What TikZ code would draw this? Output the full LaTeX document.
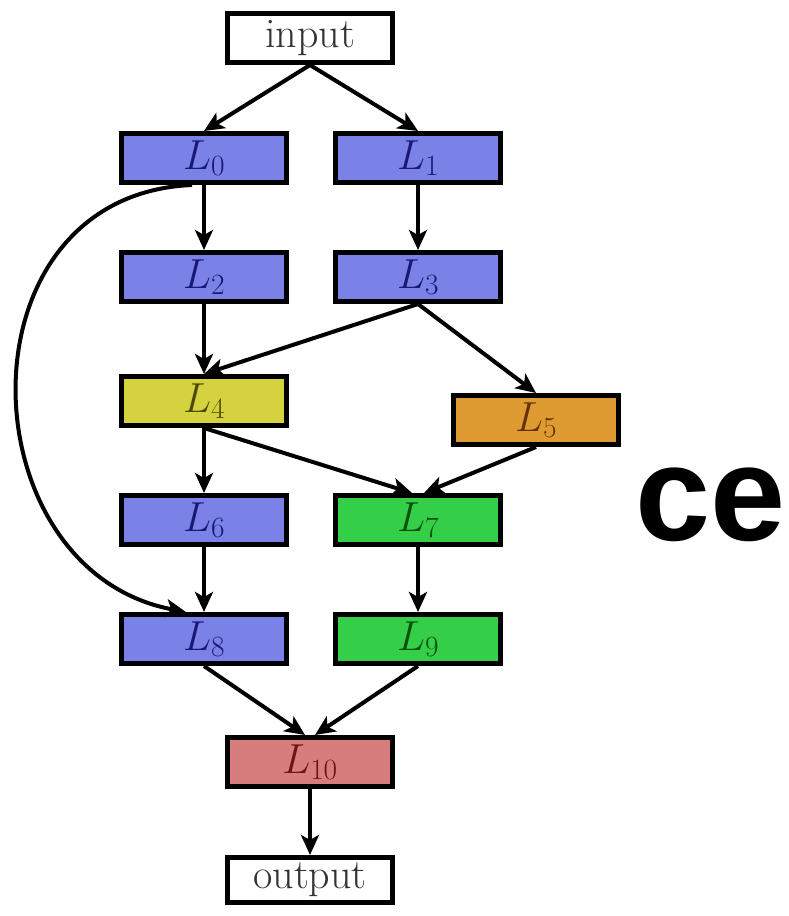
\RequirePackage{fix-cm}
\documentclass[tikz,border=0pt]{standalone}
\usepackage{fontspec}
\newfontfamily\bigsans{Liberation Sans}
\usetikzlibrary{arrows.meta}
\definecolor{lblue}{RGB}{122,130,232}
\definecolor{tblue}{RGB}{25,25,115}
\definecolor{lyel}{RGB}{212,210,62}
\definecolor{tyel}{RGB}{75,75,0}
\definecolor{lora}{RGB}{222,155,50}
\definecolor{tora}{RGB}{100,50,0}
\definecolor{lgre}{RGB}{52,206,72}
\definecolor{tgre}{RGB}{10,80,10}
\definecolor{lred}{RGB}{215,125,125}
\definecolor{tred}{RGB}{110,20,20}
\begin{document}
\begin{tikzpicture}[x=1pt,y=-1pt,
  box/.style={draw=black, line width=5pt, rectangle, inner sep=0pt,
    minimum width=165pt, minimum height=49pt,
    font=\fontsize{42}{42}\selectfont},
  bl/.style={box, fill=lblue, text=tblue},
  ye/.style={box, fill=lyel, text=tyel},
  orn/.style={box, fill=lora, text=tora},
  gr/.style={box, fill=lgre, text=tgre},
  rd/.style={box, fill=lred, text=tred},
  wh/.style={box, fill=white, text=black!80},
  conn/.style={line width=4pt, -{Stealth[length=20pt,width=18pt,inset=5pt]}}
]
\useasboundingbox (0,0) rectangle (789,916);
\node[wh] (in) at (310,38) {input};
\node[bl] (L0) at (204,158) {$L_{0}$};
\node[bl] (L1) at (418,158) {$L_{1}$};
\node[bl] (L2) at (204,277) {$L_{2}$};
\node[bl] (L3) at (418,277) {$L_{3}$};
\node[ye] (L4) at (204,401) {$L_{4}$};
\node[orn] (L5) at (536,420) {$L_{5}$};
\node[bl] (L6) at (204,520) {$L_{6}$};
\node[gr] (L7) at (418,520) {$L_{7}$};
\node[bl] (L8) at (204,639) {$L_{8}$};
\node[gr] (L9) at (418,639) {$L_{9}$};
\node[rd] (L10) at (310,762) {$L_{10}$};
\node[wh, minimum height=45pt] (out) at (310,880) {output};
\node[font=\bigsans\bfseries\fontsize{135}{135}\selectfont, anchor=base] (ce) at (711,540) {ce};

\draw[conn] (in.south) -- (L0.north);
\draw[conn] (in.south) -- (L1.north);
\draw[conn] (L0.south) -- (L2.north);
\draw[conn] (L1.south) -- (L3.north);
\draw[conn] (L2.south) -- (L4.north);
\draw[conn] (L3.south) -- (L4.north);
\draw[conn] (L3.south) -- (L5.north);
\draw[conn] (L4.south) -- (L6.north);
\draw[conn] (L4.south) -- ([xshift=-6pt]L7.north);
\draw[conn] (L5.south) -- ([xshift=6pt]L7.north);
\draw[conn] (L6.south) -- (L8.north);
\draw[conn] (L7.south) -- (L9.north);
\draw[conn] (L8.south) -- ([xshift=-5pt]L10.north);
\draw[conn] (L9.south) -- ([xshift=5pt]L10.north);
\draw[conn] (L10.south) -- (out.north);
\draw[conn] ([xshift=-12pt]L0.south) .. controls (-45,195) and (-35,570) .. ([xshift=-18pt]L8.north);
\end{tikzpicture}
\end{document}
